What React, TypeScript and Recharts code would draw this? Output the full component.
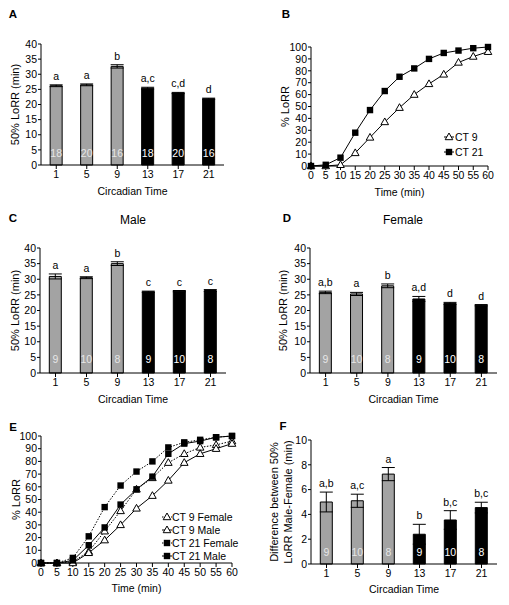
import React from 'react';
import {
  BarChart, Bar, LineChart, Line, XAxis, YAxis, ErrorBar, Cell, LabelList, Label, Legend,
} from 'recharts';

const FONT = '"Liberation Sans", Arial, Helvetica, sans-serif';
const GRAY = '#a3a3a3';

// circadian time categories (bar panels A, C, D, F)
const circadianTimes = ['1', '5', '9', '13', '17', '21'];

// A: all animals
const allMean = [26.2, 26.5, 32.6, 25.4, 23.8, 21.9];
const allErr = [0.3, 0.3, 0.55, 0.3, 0.2, 0.2];
const allSig = ['a', 'a', 'b', 'a,c', 'c,d', 'd'];
const allN = [18, 20, 16, 18, 20, 16];

// C: male, D: female
const maleMean = [30.9, 30.5, 35.0, 26.0, 26.2, 26.4];
const maleErr = [0.8, 0.3, 0.6, 0.2, 0.2, 0.3];
const maleSig = ['a', 'a', 'b', 'c', 'c', 'c'];
const femaleMean = [25.8, 25.3, 27.9, 23.7, 22.3, 21.7];
const femaleErr = [0.4, 0.5, 0.6, 0.8, 0.3, 0.2];
const femaleSig = ['a,b', 'a', 'b', 'a,d', 'd', 'd'];
const sexN = [9, 10, 8, 9, 10, 8];

// F: male - female difference
const diffMean = [5.0, 5.1, 7.25, 2.4, 3.55, 4.55];
const diffErr = [0.8, 0.53, 0.53, 0.8, 0.75, 0.43];
const diffSig = ['a,b', 'a,c', 'a', 'b', 'b,c', 'b,c'];

// B and E: cumulative % LoRR over time
const timeMin = [0, 5, 10, 15, 20, 25, 30, 35, 40, 45, 50, 55, 60];
const ct9All = [0, 0, 1, 11, 24, 37, 49, 60, 69, 77, 87, 92, 96];
const ct21All = [0, 1, 7, 28, 47, 63, 75, 82, 90, 95, 97, 99, 100];
const ct9Female = [0, 0, 1, 9, 25, 41, 58, 67, 79, 86, 91, 93, 96];
const ct9Male = [0, 0, 0, 8, 18, 30, 43, 53, 65, 79, 86, 90, 94];
const ct21Female = [0, 0, 4, 21, 44, 61, 72, 80, 91, 95, 97, 99, 100];
const ct21Male = [0, 0, 2, 14, 28, 46, 58, 68, 86, 94, 96, 99, 100];

const ticks40 = [0, 5, 10, 15, 20, 25, 30, 35, 40];
const ticks100 = [0, 10, 20, 30, 40, 50, 60, 70, 80, 90, 100];
const ticks10 = [0, 2, 4, 6, 8, 10];

const tickStyle = { fill: '#000', fontSize: 10.5, fontFamily: FONT };
const axisStroke = { stroke: '#000', strokeWidth: 1 };

function Marker({ cx, cy, kind }: { cx: number; cy: number; kind: string }) {
  if (kind === 'tri') {
    return (
      <path
        d={`M${cx},${cy - 4}L${cx + 3.8},${cy + 2.7}L${cx - 3.8},${cy + 2.7}Z`}
        fill="#fff"
        stroke="#000"
        strokeWidth={1}
      />
    );
  }
  return <rect x={cx - 3.2} y={cy - 3.2} width={6.4} height={6.4} fill="#000" />;
}

function BarPanel({ box, plot, means, errs, sigs, ns, yMax, yTicks, yLabels, nOffset, xLabelOffset }: any) {
  const rows = circadianTimes.map((ct, i) => ({ ct, mean: means[i], err: errs[i], sig: sigs[i], n: ns[i] }));
  const xh = 35;
  const height = plot.bottom - box.y + xh;

  const sigContent = (props: any) => {
    const { viewBox, value, index } = props;
    const { x, y, width, height: h } = viewBox;
    const top = Math.min(y, y + h);
    const perUnit = Math.abs(h) / means[index];
    return (
      <text key={`s${index}`} x={x + width / 2} y={top - errs[index] * perUnit - 5} textAnchor="middle"
        fontSize={10.5} fontFamily={FONT} fill="#000">
        {value}
      </text>
    );
  };
  const nContent = (props: any) => {
    const { viewBox, value, index } = props;
    const { x, y, width, height: h } = viewBox;
    const bottom = Math.max(y, y + h);
    return (
      <text key={`n${index}`} x={x + width / 2} y={bottom - nOffset} textAnchor="middle"
        fontSize={10.5} fontFamily={FONT} fill={index < 3 ? '#e6e6e6' : '#ffffff'}>
        {value}
      </text>
    );
  };

  return (
    <div style={{ position: 'absolute', left: box.x, top: box.y }}>
      <BarChart width={box.w} height={height} data={rows} barCategoryGap="30%"
        margin={{ top: plot.top - box.y, right: box.x + box.w - plot.right, left: 0, bottom: 0 }}>
        <XAxis dataKey="ct" height={xh} interval={0} tick={tickStyle} tickSize={4} tickMargin={2}
          axisLine={axisStroke} tickLine={axisStroke}
          label={{ value: 'Circadian Time', position: 'insideBottom', offset: xLabelOffset, fill: '#000', fontSize: 10.5, fontFamily: FONT }} />
        <YAxis width={plot.left - box.x} domain={[0, yMax]} ticks={yTicks} interval={0} tick={tickStyle}
          tickSize={3} tickMargin={1} axisLine={axisStroke} tickLine={axisStroke}>
          {yLabels.map((l: any) => (
            <Label key={l.text} value={l.text} angle={-90} position="insideLeft" offset={l.x - box.x}
              fill="#000" fontSize={11} fontFamily={FONT} style={{ textAnchor: 'middle' }} />
          ))}
        </YAxis>
        <Bar dataKey="mean" stroke="#000" strokeWidth={1} isAnimationActive={false}>
          {rows.map((r, i) => (
            <Cell key={r.ct} fill={i < 3 ? GRAY : '#000'} />
          ))}
          <ErrorBar dataKey="err" width={6.5} stroke="#000" strokeWidth={1} direction="y" />
          <LabelList dataKey="sig" content={sigContent} />
          <LabelList dataKey="n" content={nContent} />
        </Bar>
      </BarChart>
    </div>
  );
}

function LinePanel({ box, plot, series, yLabelX, xLabelOffset, legend }: any) {
  const rows = timeMin.map((t, i) => {
    const r: any = { t };
    series.forEach((s: any) => { r[s.key] = s.values[i]; });
    return r;
  });
  const xh = 35;
  const height = plot.bottom - box.y + xh;

  const legendContent = () => (
    <div style={{ fontFamily: FONT, fontSize: 10.5, color: '#000' }}>
      {series.map((s: any) => (
        <div key={s.key} style={{ display: 'flex', alignItems: 'center', height: legend.rowH, whiteSpace: 'nowrap' }}>
          <svg width={legend.iconW} height={10} style={{ display: 'block' }}>
            <line x1={0} y1={5} x2={legend.iconW} y2={5} stroke="#000" strokeWidth={1}
              strokeDasharray={s.dashed ? '1.5 1.5' : undefined} />
            <Marker cx={legend.iconW / 2} cy={5} kind={s.marker} />
          </svg>
          <span style={{ marginLeft: legend.gap }}>{s.name}</span>
        </div>
      ))}
    </div>
  );

  return (
    <div style={{ position: 'absolute', left: box.x, top: box.y }}>
      <LineChart width={box.w} height={height} data={rows}
        margin={{ top: plot.top - box.y, right: box.x + box.w - plot.right, left: 0, bottom: 0 }}>
        <XAxis dataKey="t" type="number" domain={[0, 60]} ticks={timeMin} interval={0} height={xh}
          tick={tickStyle} tickSize={4} tickMargin={2} axisLine={axisStroke} tickLine={axisStroke}
          label={{ value: 'Time (min)', position: 'insideBottom', offset: xLabelOffset, fill: '#000', fontSize: 10.5, fontFamily: FONT }} />
        <YAxis width={plot.left - box.x} domain={[0, 100]} ticks={ticks100} interval={0} tick={tickStyle}
          tickSize={3} tickMargin={1} axisLine={axisStroke} tickLine={axisStroke}>
          <Label value="% LoRR" angle={-90} position="insideLeft" offset={yLabelX - box.x}
            fill="#000" fontSize={11} fontFamily={FONT} style={{ textAnchor: 'middle' }} />
        </YAxis>
        <Legend layout="vertical" align="center" verticalAlign="middle" content={legendContent}
          wrapperStyle={{ left: legend.x - box.x, top: legend.y - box.y, width: 'auto', height: 'auto' }} />
        {series.map((s: any) => (
          <Line key={s.key} dataKey={s.key} name={s.name} type="linear" stroke="#000" strokeWidth={1}
            strokeDasharray={s.dashed ? '1.5 1.5' : undefined} isAnimationActive={false}
            dot={(p: any) => <Marker key={`${s.key}-${p.index}`} cx={p.cx} cy={p.cy} kind={s.marker} />}
            activeDot={false} />
        ))}
      </LineChart>
    </div>
  );
}

function PanelText({ x, y, text, bold, size }: any) {
  return (
    <div style={{
      position: 'absolute', left: x, top: y, transform: 'translate(-50%, -50%)', fontFamily: FONT,
      fontSize: size, fontWeight: bold ? 700 : 400, color: '#000', whiteSpace: 'nowrap', lineHeight: 1,
    }}>
      {text}
    </div>
  );
}

export default function App() {
  const seriesB = [
    { key: 'ct9', name: 'CT 9', values: ct9All, marker: 'tri', dashed: false },
    { key: 'ct21', name: 'CT 21', values: ct21All, marker: 'sq', dashed: false },
  ];
  const seriesE = [
    { key: 'ct9f', name: 'CT 9 Female', values: ct9Female, marker: 'tri', dashed: true },
    { key: 'ct9m', name: 'CT 9 Male', values: ct9Male, marker: 'tri', dashed: false },
    { key: 'ct21f', name: 'CT 21 Female', values: ct21Female, marker: 'sq', dashed: true },
    { key: 'ct21m', name: 'CT 21 Male', values: ct21Male, marker: 'sq', dashed: false },
  ];

  return (
    <div style={{ position: 'absolute', left: 0, top: 0, width: 509, height: 605, background: '#fff', overflow: 'hidden' }}>
      <BarPanel box={{ x: 0, y: 0, w: 240 }} plot={{ left: 41, top: 44, right: 224, bottom: 165 }}
        means={allMean} errs={allErr} sigs={allSig} ns={allN} yMax={40} yTicks={ticks40}
        yLabels={[{ text: '50% LoRR (min)', x: 15 }]} nOffset={8} xLabelOffset={5} />
      <LinePanel box={{ x: 255, y: 0, w: 254 }} plot={{ left: 311, top: 47, right: 488, bottom: 166 }}
        series={seriesB} yLabelX={285} xLabelOffset={5.5}
        legend={{ x: 444, y: 129.5, rowH: 15, iconW: 10, gap: 1 }} />

      <BarPanel box={{ x: 0, y: 200, w: 240 }} plot={{ left: 40, top: 248, right: 226, bottom: 373 }}
        means={maleMean} errs={maleErr} sigs={maleSig} ns={sexN} yMax={40} yTicks={ticks40}
        yLabels={[{ text: '50% LoRR (min)', x: 15 }]} nOffset={10} xLabelOffset={5} />
      <BarPanel box={{ x: 255, y: 200, w: 254 }} plot={{ left: 310, top: 248, right: 497, bottom: 373 }}
        means={femaleMean} errs={femaleErr} sigs={femaleSig} ns={sexN} yMax={40} yTicks={ticks40}
        yLabels={[{ text: '50% LoRR (min)', x: 283 }]} nOffset={10} xLabelOffset={5} />

      <LinePanel box={{ x: 0, y: 400, w: 240 }} plot={{ left: 41, top: 436, right: 232, bottom: 563 }}
        series={seriesE} yLabelX={16} xLabelOffset={6}
        legend={{ x: 162, y: 510.5, rowH: 13, iconW: 10, gap: 0 }} />
      <BarPanel box={{ x: 255, y: 400, w: 254 }} plot={{ left: 311, top: 440, right: 497, bottom: 564 }}
        means={diffMean} errs={diffErr} sigs={diffSig} ns={sexN} yMax={10} yTicks={ticks10}
        yLabels={[{ text: 'Difference between 50%', x: 274 }, { text: 'LoRR Male-Female (min)', x: 288 }]}
        nOffset={8} xLabelOffset={6} />

      <PanelText x={13} y={15} text="A" bold size={11.5} />
      <PanelText x={286} y={15} text="B" bold size={11.5} />
      <PanelText x={13} y={219} text="C" bold size={11.5} />
      <PanelText x={287} y={219} text="D" bold size={11.5} />
      <PanelText x={13} y={428} text="E" bold size={11.5} />
      <PanelText x={283} y={427} text="F" bold size={11.5} />
      <PanelText x={133} y={220} text="Male" size={12} />
      <PanelText x={403} y={220} text="Female" size={12} />
    </div>
  );
}
